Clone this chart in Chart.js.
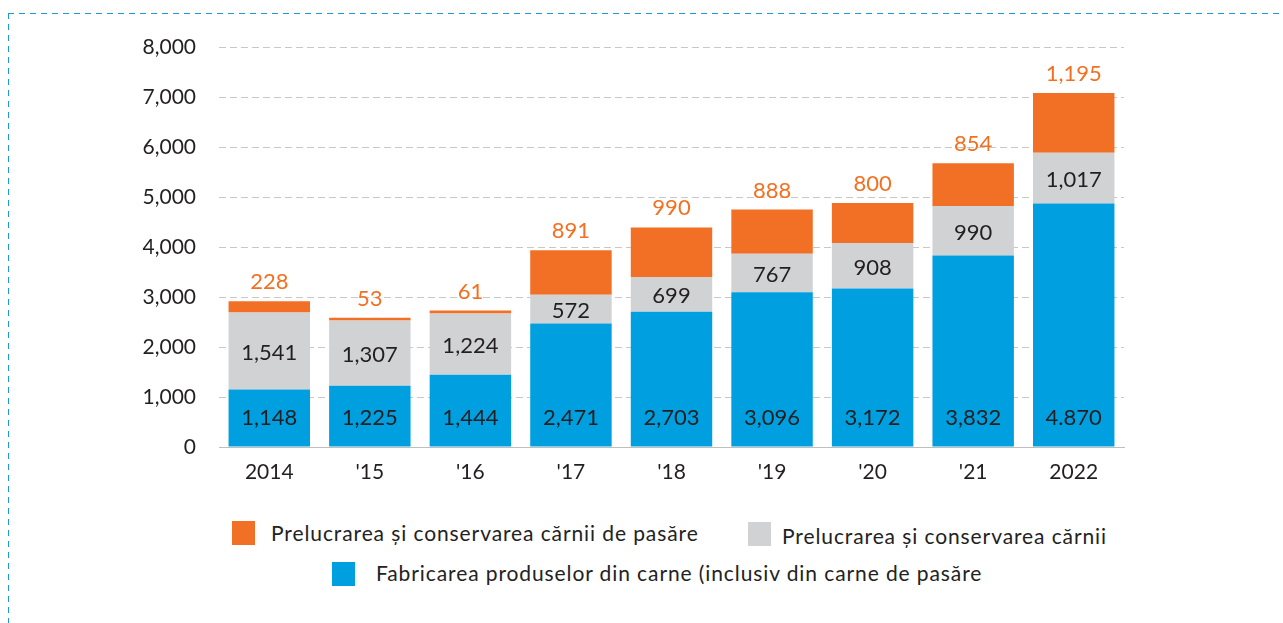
<!DOCTYPE html>
<html>
<head>
<meta charset="utf-8">
<script src="https://cdn.jsdelivr.net/npm/chart.js@4.4.1/dist/chart.umd.min.js"></script>
<style>
  body { margin: 0; background: #fff; font-family: Lato, sans-serif; }
  #wrap { position: relative; width: 1283px; height: 623px; overflow: hidden; }
  .dashH { position: absolute; left: 8px; top: 13px; width: 1280px; height: 1px;
           background: repeating-linear-gradient(to right, #1a9ad6 0 6px, transparent 6px 11px); }
  .dashV { position: absolute; left: 8px; top: 13px; width: 1px; height: 620px;
           background: repeating-linear-gradient(to bottom, #1a9ad6 0 6px, transparent 6px 11px); }
  #box { position: absolute; left: 0; top: 0; width: 1283px; height: 500px; }
  .key { position: absolute; font-size: 21px; letter-spacing: 0.9px; color: #222; white-space: nowrap; }
  .key i { position: absolute; width: 23px; height: 24px; }
</style>
</head>
<body>
<div id="wrap">
  <div class="dashH"></div>
  <div class="dashV"></div>
  <div id="box"><canvas id="myChart"></canvas></div>
  <div class="key" style="left:232px; top:521px;"><i style="left:0; top:0; background:#f26f26"></i><span style="position:absolute; left:39px; top:-1px;">Prelucrarea și conservarea cărnii de pasăre</span></div>
  <div class="key" style="left:748px; top:522px;"><i style="left:0; top:0; background:#d1d2d4"></i><span style="position:absolute; left:34px; top:1px;">Prelucrarea și conservarea cărnii</span></div>
  <div class="key" style="left:332px; top:562px;"><i style="left:0; top:0; background:#009fdf"></i><span style="position:absolute; left:44px; top:-2px;">Fabricarea produselor din carne (inclusiv din carne de pasăre</span></div>
</div>

<script>
var years = ["2014", "'15", "'16", "'17", "'18", "'19", "'20", "'21", "2022"];
var fabricarea = [1148, 1225, 1444, 2471, 2703, 3096, 3172, 3832, 4870];
var carne = [1541, 1307, 1224, 572, 699, 767, 908, 990, 1017];
var pasare = [228, 53, 61, 891, 990, 888, 800, 854, 1195];
var blueText = ["1,148", "1,225", "1,444", "2,471", "2,703", "3,096", "3,172", "3,832", "4.870"];

var fmt = function (v) { return v.toLocaleString("en-US"); };

// value labels: blue at the base, grey centred, orange above the bar
var barLabels = {
    id: "barLabels",
    afterDatasetsDraw: function (chart) {
        var ctx = chart.ctx;
        ctx.save();
        ctx.textAlign = "center";
        ctx.textBaseline = "middle";
        ctx.font = "22px Lato";
        chart.data.datasets.forEach(function (ds, i) {
            var meta = chart.getDatasetMeta(i);
            meta.data.forEach(function (bar, j) {
                if (i === 0) {
                    ctx.fillStyle = "#231f20";
                    ctx.fillText(blueText[j], bar.x, bar.base - 29);
                } else if (i === 1) {
                    ctx.fillStyle = "#231f20";
                    ctx.fillText(fmt(ds.data[j]), bar.x, (bar.y + bar.base) / 2 + 2);
                } else {
                    ctx.fillStyle = "#f37021";
                    ctx.fillText(fmt(ds.data[j]), bar.x, bar.y - 19);
                }
            });
        });
        ctx.restore();
    }
};

new Chart("myChart", {
    type: "bar",
    data: {
        labels: years,
        datasets: [
            { label: "Fabricarea produselor din carne (inclusiv din carne de pasăre", data: fabricarea, backgroundColor: "#009fdf" },
            { label: "Prelucrarea și conservarea cărnii", data: carne, backgroundColor: "#d1d2d4" },
            { label: "Prelucrarea și conservarea cărnii de pasăre", data: pasare, backgroundColor: "#f26f26" }
        ]
    },
    options: {
        responsive: true,
        maintainAspectRatio: false,
        animation: false,
        categoryPercentage: 0.81,
        barPercentage: 1,
        layout: { padding: { top: 47, right: 159, left: 0, bottom: 0 } },
        plugins: { legend: { display: false }, tooltip: { enabled: false } },
        scales: {
            x: {
                stacked: true,
                grid: { display: false, drawTicks: false },
                border: { color: "#bfbfbf", width: 1 },
                ticks: { color: "#231f20", font: { family: "Lato", size: 21 }, padding: 13 },
                afterFit: function (s) { s.height = 53; }
            },
            y: {
                stacked: true,
                min: 0,
                max: 8000,
                grid: { color: "#c8c8c8", drawTicks: false },
                border: { display: false, dash: [7, 4] },
                ticks: {
                    stepSize: 1000,
                    color: "#231f20",
                    font: { family: "Lato", size: 21 },
                    padding: 23,
                    callback: function (v) { return fmt(v); }
                },
                afterFit: function (s) { s.width = 219; }
            }
        }
    },
    plugins: [barLabels]
});
</script>
</body>
</html>
